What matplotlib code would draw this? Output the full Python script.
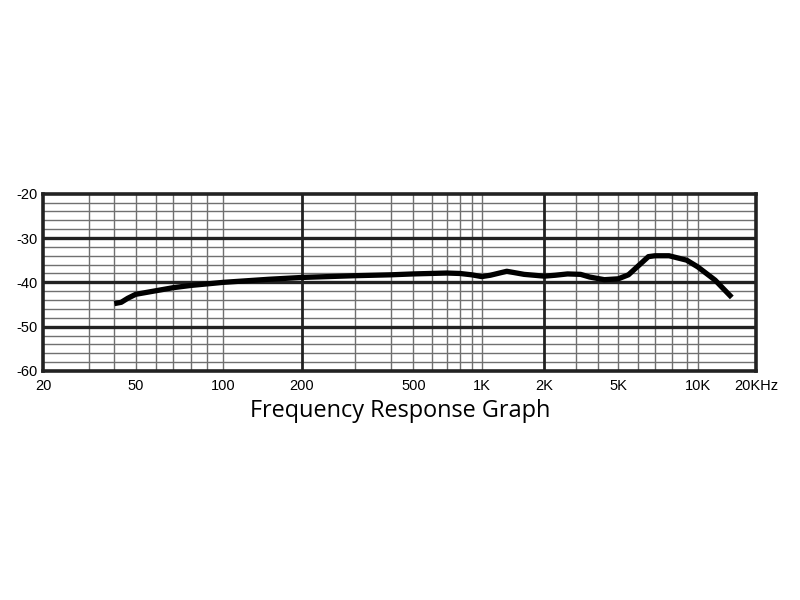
import numpy as np
import matplotlib
matplotlib.use("Agg")
import matplotlib.pyplot as plt

plt.rcParams["axes.unicode_minus"] = False

# response curve (Hz, dB)
freq = [40, 43, 46, 50, 60, 70, 80, 100, 150, 200, 300, 400, 500, 700, 800,
        900, 1000, 1100, 1320, 1600, 2000, 2300, 2700, 3200, 3600, 4300,
        5000, 5500, 6000, 6600, 7000, 7800, 9000, 10000, 12300, 15000]
level = [-44.8, -44.5, -43.6, -42.7, -41.9, -41.2, -40.7, -40.0, -39.3, -38.9,
         -38.5, -38.3, -38.1, -37.9, -38.0, -38.3, -38.7, -38.4, -37.5, -38.2,
         -38.6, -38.4, -38.1, -38.2, -38.8, -39.4, -39.2, -38.3, -36.4, -34.2,
         -34.0, -34.0, -35.0, -36.5, -39.5, -43.4]

xtick_vals = [20, 50, 100, 200, 500, 1000, 2000, 5000, 10000, 20000]
xtick_labels = ["20", "50", "100", "200", "500", "1K", "2K", "5K", "10K", "20KHz"]
ytick_vals = [-20, -30, -40, -50, -60]

# the paper's frequency axis is hand drawn, not a true log scale:
# gridline frequencies and where they sit across the chart
paper_f = [20, 30, 40, 50, 60, 70, 80, 90, 100, 200, 300, 400, 500, 600, 700,
           800, 900, 1000, 2000, 3000, 4000, 5000, 6000, 7000, 8000, 9000,
           10000, 20000]
paper_x = [43.3, 89, 114.3, 135.7, 155.7, 173.3, 190.7, 207.3, 223.3, 301.7,
           354.7, 390.7, 413.3, 432.3, 446.7, 460, 471.7, 481.7, 544.3, 575.7,
           597.7, 618.3, 637.7, 655, 672.3, 686.7, 697.7, 756]
lf = np.log10(paper_f)
px = np.array(paper_x)


def fwd(f):
    f = np.clip(np.asarray(f, dtype=float), 1e-3, None)
    l = np.log10(f)
    slope_lo = (px[1] - px[0]) / (lf[1] - lf[0])
    slope_hi = (px[-1] - px[-2]) / (lf[-1] - lf[-2])
    out = np.interp(l, lf, px)
    out = np.where(l < lf[0], px[0] + (l - lf[0]) * slope_lo, out)
    out = np.where(l > lf[-1], px[-1] + (l - lf[-1]) * slope_hi, out)
    return out


def inv(x):
    x = np.asarray(x, dtype=float)
    return 10 ** np.interp(x, px, lf)


fig = plt.figure(figsize=(8, 6), dpi=100)
ax = fig.add_axes([43.3 / 800, 1 - 371 / 600, (756 - 43.3) / 800, (371 - 193.7) / 600])
ax.set_xscale("function", functions=(fwd, inv))
ax.set_xlim(20, 20000)
ax.set_ylim(-60, -20)

thin = "#707070"
thick = "#222222"
for f in paper_f[1:-1]:
    if f in (200, 2000):
        ax.axvline(f, color=thick, lw=2.0, zorder=2)
    else:
        ax.axvline(f, color=thin, lw=1.0, zorder=1)
for db in range(-58, -20, 2):
    if db % 10 == 0:
        ax.axhline(db, color=thick, lw=2.4, zorder=2)
    else:
        ax.axhline(db, color=thin, lw=1.0, zorder=1)

ax.plot(freq, level, color="black", lw=3.8, solid_capstyle="butt",
        solid_joinstyle="round", zorder=3)

for s in ax.spines.values():
    s.set_linewidth(2.6)
    s.set_color(thick)

ax.set_xticks(xtick_vals)
ax.set_xticklabels(xtick_labels)
ax.minorticks_off()
ax.set_yticks(ytick_vals)
ax.set_yticklabels([str(v) for v in ytick_vals])
ax.tick_params(length=0, labelsize=10.5, colors="black")
ax.tick_params(axis="x", pad=6)
ax.tick_params(axis="y", pad=4)
for t in ax.get_xticklabels() + ax.get_yticklabels():
    t.set_fontfamily("Liberation Sans")

fig.text(400.5 / 800, 1 - 416.7 / 600, "Frequency Response Graph",
         ha="center", va="baseline", fontsize=16.9, family="Open Sans")

fig.savefig("out.png", dpi=100)
